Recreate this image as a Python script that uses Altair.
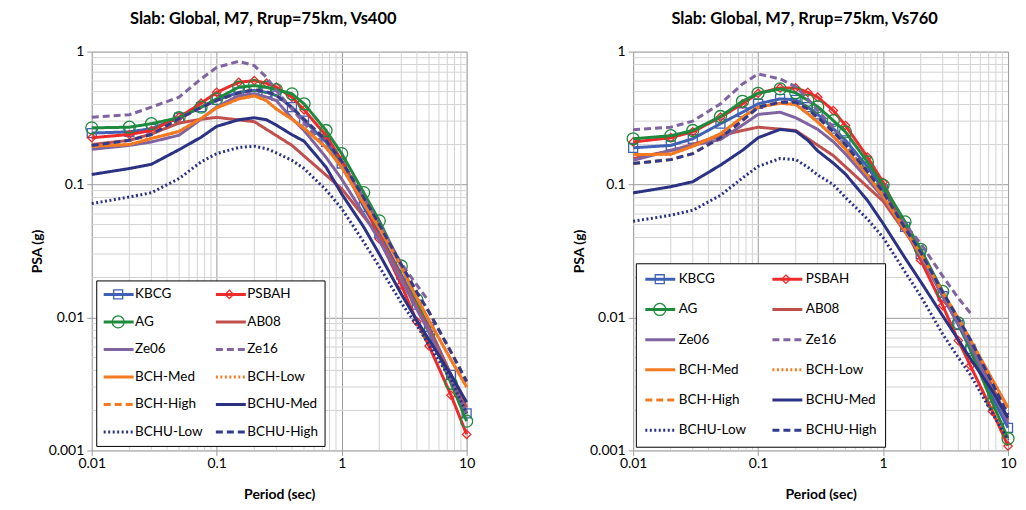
import altair as alt
import pandas as pd

FONT = "Lato"

PERIODS = [0.01, 0.02, 0.03, 0.05, 0.075, 0.1, 0.15, 0.2, 0.25, 0.3, 0.4, 0.5,
           0.75, 1, 1.5, 2, 3, 4, 5, 7.5, 10]
PERIODS_AB08 = [0.01, 0.02, 0.03, 0.05, 0.075, 0.1, 0.2, 0.4, 1, 2, 3, 4, 5, 7.5, 10]
PERIODS_ZE16 = [0.01, 0.02, 0.03, 0.05, 0.075, 0.1, 0.15, 0.2, 0.25, 0.3, 0.4, 0.5,
                0.75, 1, 1.5, 2, 3, 4, 5]

SERIES = ["KBCG", "PSBAH", "AG", "AB08", "Ze06", "Ze16", "BCH-Med", "BCH-Low",
          "BCH-High", "BCHU-Med", "BCHU-Low", "BCHU-High"]
COLORS = ["#3F60B5", "#EE2A2A", "#1E8A3E", "#C0504D", "#8064A2", "#8064A2",
          "#F47A20", "#F47A20", "#F47A20", "#2B3183", "#2B3183", "#2F3B8F"]
SOLID, DASHED, DOTTED = [1, 0], [7, 4], [2, 2.5]
DASHES = [SOLID, SOLID, SOLID, SOLID, SOLID, DASHED, SOLID, DOTTED, DASHED,
          SOLID, DOTTED, DASHED]
WIDTHS = [3, 3, 3, 2, 2.5, 2.5, 2.5, 2, 2, 2.5, 2.5, 2.5]
SQUARE = "M-0.3,-0.3H0.3V0.3H-0.3Z"
DIAMOND = "M0,-0.28L0.28,0L0,0.28L-0.28,0Z"
CIRCLE = "M-0.4,0A0.4,0.4,0,1,0,0.4,0A0.4,0.4,0,1,0,-0.4,0Z"
NOMARK = "M0,0"
SHAPES = [SQUARE, DIAMOND, CIRCLE] + [NOMARK] * 9
MARKED = ["KBCG", "PSBAH", "AG"]

X_MAJOR = [0.01, 0.1, 1, 10]
Y_MAJOR = [0.001, 0.01, 0.1, 1]
X_MINOR = [0.02, 0.03, 0.04, 0.05, 0.06, 0.07, 0.08, 0.09,
           0.2, 0.3, 0.4, 0.5, 0.6, 0.7, 0.8, 0.9,
           2, 3, 4, 5, 6, 7, 8, 9]
Y_MINOR = [0.002, 0.003, 0.004, 0.005, 0.006, 0.007, 0.008, 0.009,
           0.02, 0.03, 0.04, 0.05, 0.06, 0.07, 0.08, 0.09,
           0.2, 0.3, 0.4, 0.5, 0.6, 0.7, 0.8, 0.9]

# ---- Vs400 ----
KBCG_400 = [0.244, 0.249, 0.263, 0.318, 0.382, 0.434, 0.494, 0.510, 0.494, 0.467, 0.382,
            0.303, 0.209, 0.144, 0.068, 0.043, 0.021, 0.0125, 0.0085, 0.0037, 0.0019]
PSBAH_400 = [0.225, 0.238, 0.255, 0.321, 0.409, 0.494, 0.588, 0.605, 0.578, 0.540, 0.454,
             0.365, 0.234, 0.152, 0.076, 0.039, 0.0176, 0.0093, 0.0061, 0.0026, 0.00132]
AG_400 = [0.267, 0.270, 0.287, 0.318, 0.382, 0.441, 0.540, 0.555, 0.540, 0.518, 0.481,
          0.405, 0.255, 0.171, 0.087, 0.0533, 0.0244, 0.0136, 0.0077, 0.0032, 0.00166]
AB08_400 = [0.200, 0.215, 0.240, 0.290, 0.310, 0.320, 0.297, 0.197, 0.093, 0.041, 0.020,
            0.012, 0.0082, 0.0037, 0.0021]
ZE06_400 = [0.184, 0.197, 0.209, 0.235, 0.310, 0.384, 0.467, 0.481, 0.455, 0.428, 0.314,
            0.255, 0.160, 0.110, 0.060, 0.038, 0.019, 0.0115, 0.0078, 0.0034, 0.0019]
ZE16_400 = [0.321, 0.335, 0.382, 0.454, 0.623, 0.761, 0.845, 0.784, 0.641, 0.509, 0.370,
            0.290, 0.190, 0.140, 0.080, 0.050, 0.0255, 0.0175, 0.0132]
BCH_MED_400 = [0.194, 0.200, 0.222, 0.251, 0.314, 0.378, 0.441, 0.465, 0.428, 0.370, 0.310,
               0.265, 0.190, 0.135, 0.072, 0.047, 0.024, 0.0140, 0.0095, 0.0048, 0.0030]
BCH_LOW_400 = [0.194, 0.200, 0.222, 0.251, 0.314, 0.378, 0.441, 0.465, 0.428, 0.370, 0.310,
               0.265, 0.190, 0.135, 0.072, 0.047, 0.024, 0.0140, 0.0095, 0.0048, 0.0030]
BCH_HIGH_400 = [0.197, 0.215, 0.238, 0.313, 0.380, 0.430, 0.490, 0.516, 0.500, 0.470, 0.380,
                0.310, 0.215, 0.150, 0.080, 0.050, 0.025, 0.0155, 0.0110, 0.0055, 0.0033]
BCHU_MED_400 = [0.119, 0.132, 0.142, 0.183, 0.227, 0.274, 0.307, 0.318, 0.307, 0.280, 0.237,
                0.212, 0.135, 0.085, 0.048, 0.030, 0.015, 0.0095, 0.0068, 0.0037, 0.0023]
BCHU_LOW_400 = [0.072, 0.0806, 0.0868, 0.111, 0.148, 0.171, 0.190, 0.194, 0.186, 0.173, 0.152,
                0.132, 0.091, 0.066, 0.037, 0.0241, 0.0129, 0.0087, 0.0062, 0.0034, 0.0019]
BCHU_HIGH_400 = [0.197, 0.215, 0.238, 0.313, 0.380, 0.430, 0.490, 0.516, 0.500, 0.470, 0.380,
                 0.310, 0.215, 0.150, 0.080, 0.050, 0.025, 0.0155, 0.0110, 0.0055, 0.0033]

# ---- Vs760 ----
KBCG_760 = [0.189, 0.197, 0.221, 0.287, 0.350, 0.405, 0.441, 0.434, 0.382, 0.337, 0.263,
            0.215, 0.136, 0.092, 0.048, 0.030, 0.0145, 0.0088, 0.0058, 0.0025, 0.00148]
PSBAH_760 = [0.209, 0.225, 0.249, 0.321, 0.405, 0.486, 0.533, 0.533, 0.494, 0.454, 0.360,
             0.278, 0.161, 0.104, 0.047, 0.027, 0.0123, 0.0067, 0.00434, 0.00197, 0.00108]
AG_760 = [0.221, 0.233, 0.255, 0.325, 0.423, 0.486, 0.524, 0.490, 0.430, 0.385, 0.303,
          0.249, 0.148, 0.099, 0.0524, 0.0326, 0.0157, 0.0091, 0.0057, 0.00228, 0.00123]
AB08_760 = [0.157, 0.180, 0.200, 0.234, 0.255, 0.270, 0.255, 0.165, 0.075, 0.030, 0.015,
            0.0095, 0.0065, 0.0030, 0.0017]
ZE06_760 = [0.152, 0.181, 0.197, 0.218, 0.280, 0.337, 0.350, 0.318, 0.285, 0.260, 0.210,
            0.170, 0.110, 0.080, 0.045, 0.029, 0.0145, 0.0090, 0.0062, 0.0028, 0.0016]
ZE16_760 = [0.258, 0.270, 0.300, 0.405, 0.571, 0.679, 0.623, 0.545, 0.440, 0.360, 0.270,
            0.200, 0.120, 0.085, 0.050, 0.036, 0.0205, 0.0140, 0.0108]
BCH_MED_760 = [0.168, 0.169, 0.194, 0.241, 0.321, 0.382, 0.409, 0.400, 0.341, 0.295, 0.230,
               0.185, 0.118, 0.082, 0.045, 0.030, 0.0155, 0.0098, 0.0068, 0.0034, 0.0021]
BCH_LOW_760 = [0.168, 0.169, 0.194, 0.241, 0.321, 0.382, 0.409, 0.400, 0.341, 0.295, 0.230,
               0.185, 0.118, 0.082, 0.045, 0.030, 0.0155, 0.0098, 0.0068, 0.0034, 0.0021]
BCH_HIGH_760 = [0.144, 0.154, 0.171, 0.225, 0.303, 0.382, 0.416, 0.416, 0.370, 0.320, 0.250,
                0.200, 0.125, 0.088, 0.047, 0.031, 0.0155, 0.0098, 0.0068, 0.0032, 0.00185]
BCHU_MED_760 = [0.0865, 0.0963, 0.105, 0.140, 0.181, 0.225, 0.260, 0.252, 0.215, 0.179, 0.145,
                0.120, 0.076, 0.051, 0.028, 0.0186, 0.0103, 0.0068, 0.0049, 0.0028, 0.00176]
BCHU_LOW_760 = [0.0529, 0.0588, 0.064, 0.083, 0.112, 0.137, 0.157, 0.154, 0.135, 0.118, 0.100,
                0.080, 0.055, 0.040, 0.022, 0.0145, 0.0075, 0.0050, 0.0037, 0.0019, 0.0012]
BCHU_HIGH_760 = [0.144, 0.154, 0.171, 0.225, 0.303, 0.382, 0.416, 0.416, 0.370, 0.320, 0.250,
                 0.200, 0.125, 0.088, 0.047, 0.031, 0.0155, 0.0098, 0.0068, 0.0032, 0.00185]

VALUES_400 = dict(zip(SERIES, [KBCG_400, PSBAH_400, AG_400, AB08_400, ZE06_400, ZE16_400,
                               BCH_MED_400, BCH_LOW_400, BCH_HIGH_400, BCHU_MED_400,
                               BCHU_LOW_400, BCHU_HIGH_400]))
VALUES_760 = dict(zip(SERIES, [KBCG_760, PSBAH_760, AG_760, AB08_760, ZE06_760, ZE16_760,
                               BCH_MED_760, BCH_LOW_760, BCH_HIGH_760, BCHU_MED_760,
                               BCHU_LOW_760, BCHU_HIGH_760]))
PERIODS_FOR = {s: PERIODS for s in SERIES}
PERIODS_FOR["AB08"] = PERIODS_AB08
PERIODS_FOR["Ze16"] = PERIODS_ZE16

MAJOR = "#9c9c9c"
MINOR = "#d3d3d3"


def make_panel(values, title, lx, ly, pad, rowpad, colpad, laboff):
    rows = []
    for s in SERIES:
        for t, v in zip(PERIODS_FOR[s], values[s]):
            rows.append({"series": s, "series_m": s + "_m", "T": t, "psa": v})
    df = pd.DataFrame(rows)

    xscale = alt.Scale(type="log", domain=[0.01, 10], nice=False)
    yscale = alt.Scale(type="log", domain=[0.001, 1], nice=False)
    xaxis = alt.Axis(values=X_MAJOR, format="~g", title="Period (sec)", grid=True,
                     gridColor=MAJOR, gridWidth=1, domain=False, ticks=True,
                     tickColor=MAJOR, tickSize=5, labelPadding=1, labelFlush=False,
                     labelFont=FONT, labelFontSize=14, labelColor="#000",
                     titleFont=FONT, titleFontSize=14, titleFontWeight="bold",
                     titleColor="#000", titlePadding=17)
    yaxis = alt.Axis(values=Y_MAJOR, format="~g", title="PSA (g)", grid=True,
                     gridColor=MAJOR, gridWidth=1, domain=False, ticks=True,
                     tickColor=MAJOR, tickSize=5, labelPadding=3, labelFlush=False,
                     labelFont=FONT, labelFontSize=14, labelColor="#000",
                     titleFont=FONT, titleFontSize=14, titleFontWeight="bold",
                     titleColor="#000", titlePadding=6, minExtent=41, maxExtent=41)
    x = alt.X("T:Q", scale=xscale, axis=xaxis)
    y = alt.Y("psa:Q", scale=yscale, axis=yaxis)

    common = dict(title=None, orient="none", legendX=lx, legendY=ly, columns=2,
                  direction="horizontal",
                  padding=pad, rowPadding=rowpad, columnPadding=colpad, clipHeight=16,
                  symbolSize=900, labelFont=FONT, labelFontSize=13.5, labelOffset=laboff,
                  labelLimit=200)
    lleg = alt.Legend(symbolType="stroke", fillColor="white", strokeColor="black",
                      labelColor="black", **common)
    mleg = alt.Legend(labelOpacity=0, labelExpr="replace(datum.label, '_m', '')",
                      symbolStrokeWidth=1.3, zindex=1, **common)

    color = alt.Color("series:N", scale=alt.Scale(domain=SERIES, range=COLORS), legend=lleg)
    dash = alt.StrokeDash("series:N", scale=alt.Scale(domain=SERIES, range=DASHES), legend=lleg)
    width = alt.StrokeWidth("series:N", scale=alt.Scale(domain=SERIES, range=WIDTHS), legend=lleg)
    series_m = [s + "_m" for s in SERIES]
    stroke = alt.Stroke("series_m:N", scale=alt.Scale(domain=series_m, range=COLORS), legend=mleg)
    shape = alt.Shape("series_m:N", scale=alt.Scale(domain=series_m, range=SHAPES), legend=mleg)

    xg = alt.Chart(pd.DataFrame({"T": X_MINOR})).mark_rule(color=MINOR, strokeWidth=1).encode(x=x)
    yg = alt.Chart(pd.DataFrame({"psa": Y_MINOR})).mark_rule(color=MINOR, strokeWidth=1).encode(y=y)

    base = alt.Chart(df)
    layers = [xg, yg]
    for s in SERIES:
        sub = base.transform_filter(alt.datum.series == s)
        layers.append(sub.mark_line().encode(x=x, y=y, color=color, strokeDash=dash,
                                             strokeWidth=width))
        if s in MARKED:
            layers.append(sub.mark_point(filled=False, size=900, strokeWidth=1.3, opacity=1)
                          .encode(x=x, y=y, stroke=stroke, shape=shape))
    return alt.layer(*layers).properties(
        width=376, height=400,
        title=alt.TitleParams(title, font=FONT, fontSize=16.5, fontWeight="bold",
                              color="black", anchor="middle", frame="group", dx=-16,
                              offset=17))


left = make_panel(VALUES_400, "Slab: Global, M7, Rrup=75km, Vs400",
                  lx=4.5, ly=229.5, pad=6, rowpad=11.6, colpad=11.5, laboff=0)
right = make_panel(VALUES_760, "Slab: Global, M7, Rrup=75km, Vs760",
                   lx=2.7, ly=212.3, pad=8, rowpad=14.3, colpad=24.5, laboff=2)

ind = dict(color="independent", strokeDash="independent", strokeWidth="independent",
           shape="independent", stroke="independent")
chart = (alt.hconcat(left, right, spacing=95)
         .resolve_scale(**ind)
         .resolve_legend(**ind)
         .properties(padding={"left": 22, "top": 2, "right": 0, "bottom": 0})
         .configure_view(stroke="#9a9a9a", strokeWidth=1)
         .configure(font=FONT))

chart.save("out.html", embed_options={"renderer": "svg", "actions": False})
